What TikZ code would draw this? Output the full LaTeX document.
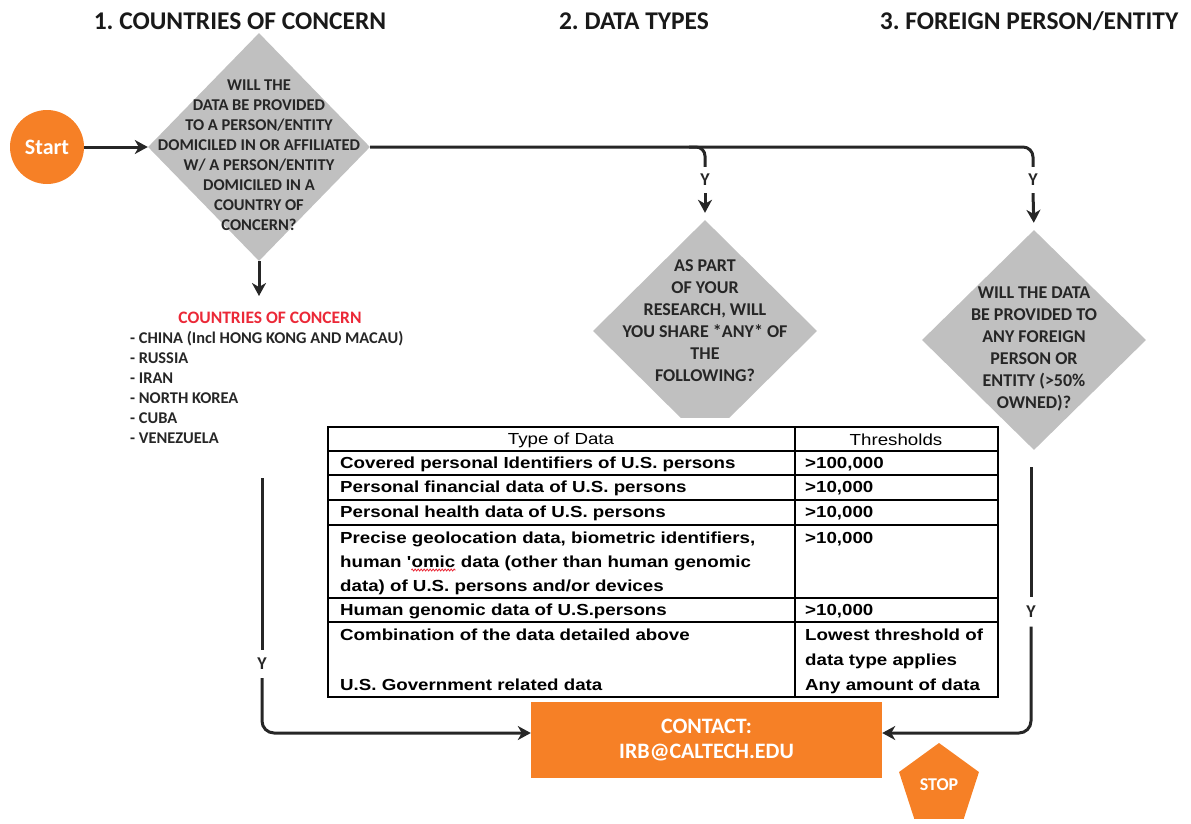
\documentclass[tikz,border=0pt]{standalone}
\usepackage{fontspec}
\setmainfont{Carlito}
\newfontfamily\titlefont{Carlito}
\newfontfamily\tablefont[FakeStretch=1.17]{Liberation Sans}
\usetikzlibrary{shapes.geometric, arrows.meta, calc, decorations.pathmorphing}
\definecolor{cOrange}{RGB}{246,128,38}
\definecolor{cGray}{RGB}{192,192,192}
\definecolor{cInk}{RGB}{38,38,38}
\definecolor{cRed}{RGB}{235,40,55}
\frenchspacing
\begin{document}
\begin{tikzpicture}[x=1pt,y=-1pt,
  conn/.style={draw=cInk, line width=3pt},
  arr/.style={-{Stealth[length=13pt,width=14pt,inset=4pt]}},
  dmd/.style={diamond, fill=cGray, draw=none, inner sep=0pt},
  dtextA/.style={align=center, font=\bfseries\fontsize{16.5}{20}\selectfont, text=cInk, inner sep=0pt},
  dtextB/.style={align=center, font=\bfseries\fontsize{18}{22}\selectfont, text=cInk, inner sep=0pt},
  title/.style={font=\titlefont\bfseries\fontsize{25.5}{28}\selectfont, text=black!90, inner sep=0pt},
  ylab/.style={font=\bfseries\fontsize{18}{20}\selectfont, text=cInk, inner sep=0pt},
  orangebox/.style={fill=cOrange, draw=none, text=white},
  clist/.style={anchor=base west, font=\bfseries\fontsize{16.4}{18}\selectfont, text=cInk, inner sep=0pt},
  trow/.style={anchor=base west, font=\tablefont\bfseries\fontsize{16}{18}\selectfont, text=black, inner sep=0pt},
  thead/.style={font=\tablefont\fontsize{16}{18}\selectfont, text=black, inner sep=0pt},
  tline/.style={draw=black, line width=1.6pt}
]
\useasboundingbox (0,0) rectangle (1191,823);

% titles
\node[title] (t1) at (240,21) {1. COUNTRIES OF CONCERN};
\node[title] (t2) at (634,21) {2. DATA TYPES};
\node[title] (t3) at (1029,21) {3. FOREIGN PERSON/ENTITY};

% start
\node[circle, orangebox, minimum size=74pt, inner sep=0pt,
      font=\bfseries\fontsize{22}{24}\selectfont] (start) at (47,147) {Start};

% diamond 1
\node[dmd, minimum width=222pt, minimum height=228pt] (d1) at (259,147) {};
\node[dtextA] (d1t) at (259,155) {WILL THE\\DATA BE PROVIDED\\TO A PERSON/ENTITY\\DOMICILED IN OR AFFILIATED\\W/ A PERSON/ENTITY\\DOMICILED IN A\\COUNTRY OF\\CONCERN?};

% diamond 2 (bottom cut)
\begin{scope}
\clip (0,0) rectangle (1191,417);
\node[dmd, minimum width=224pt, minimum height=222pt] (d2) at (705,331) {};
\end{scope}
\node[dtextB] (d2t) at (705,321) {AS PART\\OF YOUR\\RESEARCH, WILL\\YOU SHARE *ANY* OF\\THE\\FOLLOWING?};

% diamond 3
\node[dmd, minimum width=224pt, minimum height=220pt] (d3) at (1034,340) {};
\node[dtextB] (d3t) at (1034,349) {WILL THE DATA\\BE PROVIDED TO\\ANY FOREIGN\\PERSON OR\\ENTITY (>50\%\\OWNED)?};

% Y labels
\node[ylab, minimum height=26pt] (y2) at (705,180) {Y};
\node[ylab, minimum height=26pt] (y3) at (1033,180) {Y};
\node[ylab, minimum height=28pt] (yl) at (262,664) {Y};
\node[ylab, minimum height=29pt] (yr) at (1031,612) {Y};

% contact and stop
\node[rectangle, orangebox, minimum width=351pt, minimum height=76pt, align=center,
      font=\bfseries\fontsize{22}{25}\selectfont] (contact) at (706.5,740) {CONTACT:\\IRB@CALTECH.EDU};
\node[regular polygon, regular polygon sides=5, orangebox, minimum size=84pt, inner sep=0pt,
      font=\bfseries\fontsize{18}{20}\selectfont] (stop) at (939,785) {STOP};

% countries of concern
\node[font=\bfseries\fontsize{17.5}{20}\selectfont, text=cRed, inner sep=0pt] (cc) at (270,318) {COUNTRIES OF CONCERN};
\node[clist] (c1) at (130,343) {- CHINA (Incl HONG KONG AND MACAU)};
\node[clist] (c2) at (130,363) {- RUSSIA};
\node[clist] (c3) at (130,383) {- IRAN};
\node[clist] (c4) at (130,403) {- NORTH KOREA};
\node[clist] (c5) at (130,423) {- CUBA};
\node[clist] (c6) at (130,443) {- VENEZUELA};

% connectors
\coordinate (br) at (689,147);
\coordinate (ca) at (259,296);
\coordinate (lt) at (262,478);
\coordinate (rt) at (1031,467);
\draw[conn, arr] (start.east) -- (d1.west);
\draw[conn, rounded corners=10pt] (d1.east) -| (y3.north);
\draw[conn, rounded corners=9pt] (br) -| (y2.north);
\draw[conn, arr, shorten >=7pt] (y2.south) -- (d2.north);
\draw[conn, arr, shorten >=7pt] (y3.south) -- (d3.north);
\draw[conn, arr] (d1.south) -- (ca);
\draw[conn] (lt) -- (yl.north);
\draw[conn, arr, rounded corners=12pt] (yl.south) |- ([yshift=7pt]contact.west);
\draw[conn] (rt) -- (yr.north);
\draw[conn, arr, rounded corners=12pt] (yr.south) |- ([yshift=7pt]contact.east);

% table
\draw[tline, fill=white] (328,427) rectangle (998,697);
\draw[tline] (795,427) -- (795,697);
\foreach \yy in {451,475,500,525,598,622} \draw[tline] (328,\yy) -- (998,\yy);
\node[thead] (th1) at (561,440) {Type of Data};
\node[thead] (th2) at (896,440) {Thresholds};
\node[trow] (r1) at (340,468) {Covered personal Identifiers of U.S. persons};
\node[trow] (r2) at (340,492) {Personal financial data of U.S. persons};
\node[trow] (r3) at (340,517) {Personal health data of U.S. persons};
\node[trow] (r4a) at (340,543) {Precise geolocation data, biometric identifiers,};
\node[trow] (r4b) at (340,567) {human '};
\node[trow] (r4c) at (r4b.base east) {omic};
\node[trow] (r4d) at (r4c.base east) {\ data (other than human genomic};
\node[trow] (r4e) at (340,591) {data) of U.S. persons and/or devices};
\node[trow] (r5) at (340,615) {Human genomic data of U.S.persons};
\node[trow] (r6) at (340,640) {Combination of the data detailed above};
\node[trow] (r7) at (340,690) {U.S. Government related data};
\draw[cRed, line width=0.8pt, decorate, decoration={zigzag, amplitude=1pt, segment length=3pt}]
  ([yshift=-3pt]r4c.base west) -- ([yshift=-3pt]r4c.base east);
\node[trow] (s1) at (805,468) {>100,000};
\node[trow] (s2) at (805,492) {>10,000};
\node[trow] (s3) at (805,517) {>10,000};
\node[trow] (s4) at (805,543) {>10,000};
\node[trow] (s5) at (805,615) {>10,000};
\node[trow] (s6) at (805,640) {Lowest threshold of};
\node[trow] (s7) at (805,665) {data type applies};
\node[trow] (s8) at (805,690) {Any amount of data};
\end{tikzpicture}
\end{document}
